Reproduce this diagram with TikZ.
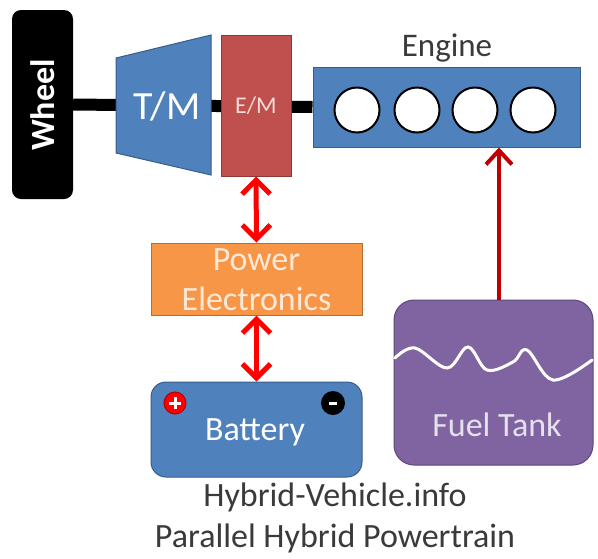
\documentclass[tikz,border=0pt]{standalone}
\usepackage{fontspec}
\setmainfont{Carlito}
\usetikzlibrary{arrows.meta}
\definecolor{oblue}{HTML}{4F81BD}
\definecolor{oblueD}{HTML}{385D8A}
\definecolor{ored}{HTML}{C0504D}
\definecolor{oredD}{HTML}{8C3836}
\definecolor{oorange}{HTML}{F79646}
\definecolor{oorangeD}{HTML}{B66D31}
\definecolor{opurple}{HTML}{8064A2}
\definecolor{opurpleD}{HTML}{5C4776}
\definecolor{fuelred}{HTML}{C00000}
\definecolor{pelight}{HTML}{FDE9D9}
\definecolor{emlight}{HTML}{F2DCDB}
\definecolor{ftlight}{HTML}{E6E0EC}
\definecolor{txtdark}{HTML}{3A3A3A}
\pgfdeclarelayer{bg}
\pgfsetlayers{bg,main}
\tikzset{
  fs/.style={font=\fontsize{#1}{#1}\selectfont},
  blk/.style={draw=oblueD, fill=oblue, line width=1pt, inner sep=0pt},
  dbl/.style={draw=red, line width=5pt, {Straight Barb[length=14pt,width=28pt]}-{Straight Barb[length=14pt,width=28pt]}},
  cyl/.style={circle, draw=black, line width=2pt, fill=white, minimum size=45pt, inner sep=0pt},
}
\begin{document}
\begin{tikzpicture}[x=1pt,y=-1pt]
\useasboundingbox (0,0) rectangle (598,558);
% Wheel
\node[fill=black, rounded corners=9pt, minimum width=61pt, minimum height=189pt, inner sep=0pt] (wheel) at (42.5,104.5) {};
\node[rotate=90, text=white, font=\fontsize{34}{34}\selectfont\bfseries] (wheeltxt) at (43,105) {Wheel};
% Engine
\node[blk, minimum width=267pt, minimum height=80pt] (engine) at (446.5,107) {};
\node[text=txtdark, fs=33] (englbl) at (447,48) {Engine};
\foreach \i/\x in {1/357,2/417,3/475,4/533}{
  \node[cyl] (c\i) at (\x,110) {};
}
% T/M
\draw[blk] (116,58) -- (211,35) -- (211,175) -- (116,153) -- cycle;
\node[text=white, fs=40] (tm) at (167,106) {T/M};
% E/M
\node[draw=oredD, fill=ored, line width=1pt, minimum width=70pt, minimum height=141pt, inner sep=0pt] (em) at (256,105.5) {};
\node[text=emlight, fs=24] (emtxt) at (256,106) {E/M};
% Shaft
\begin{pgfonlayer}{bg}
\draw[line width=12pt, black] (wheel.east) -- (engine.west);
\end{pgfonlayer}
% Power electronics
\node[draw=oorangeD, fill=oorange, line width=1pt, minimum width=211pt, minimum height=72pt, inner sep=0pt] (pe) at (256.5,279) {};
\node[text=pelight, align=center, font=\fontsize{34}{40}\selectfont] (petxt) at (256.5,280) {Power\\Electronics};
% Battery
\node[blk, rounded corners=15pt, minimum width=211pt, minimum height=95pt] (bat) at (256.5,429.5) {};
\node[text=white, fs=34] (battxt) at (255,432) {Battery};
\node[circle, fill=red, draw=red!70!black, line width=1pt, minimum size=22pt, inner sep=0pt] (plus) at (175,403) {};
\draw[white, line width=3pt] ([xshift=-6pt]plus.center) -- ([xshift=6pt]plus.center);
\draw[white, line width=3pt] ([yshift=-6pt]plus.center) -- ([yshift=6pt]plus.center);
\node[circle, fill=black, minimum size=24pt, inner sep=0pt] (minus) at (333,403) {};
\draw[white, line width=3pt] ([xshift=-4pt]minus.center) -- ([xshift=4pt]minus.center);
% Fuel tank
\node[draw=opurpleD, fill=opurple, line width=1pt, rounded corners=20pt, minimum width=199pt, minimum height=165pt, inner sep=0pt] (tank) at (493.5,382.5) {};
\draw[white, line width=3pt, line cap=round] plot[smooth, tension=0.6] coordinates {(395,358) (415,348) (447,368) (468,347) (487,370) (513,362) (527,350) (553,380) (592,360)};
\node[text=ftlight, fs=34] (tanktxt) at (497,425) {Fuel Tank};
% Arrows
\draw[dbl] (em.south) -- (pe.north);
\draw[dbl] (pe.south) -- (bat.north);
\draw[draw=fuelred, line width=4pt, -{Straight Barb[length=14pt,width=26pt]}] (tank.north -| 499,0) coordinate (ft) -- (engine.south -| ft);
% Caption
\node[text=txtdark, align=center, font=\fontsize{34}{41}\selectfont] (cap) at (335,518) {Hybrid-Vehicle.info\\Parallel Hybrid Powertrain};
\end{tikzpicture}
\end{document}
